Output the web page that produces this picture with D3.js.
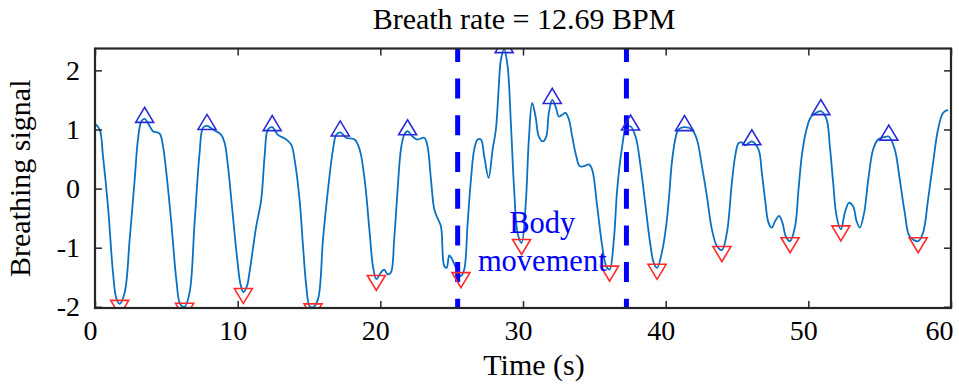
<!DOCTYPE html>
<html><head><meta charset="utf-8">
<script src="https://cdn.jsdelivr.net/npm/d3@7"></script>
<style>
body{margin:0;background:#fff}
svg{display:block}
text{font-family:"Liberation Serif","Times New Roman",Times,serif;}
</style>
</head><body>
<svg id="chart" width="959" height="387"></svg>
<script>
// ---- data ----
const timeS = [0.0,0.33,0.56,0.91,1.26,1.49,1.73,2.08,2.43,2.78,3.01,3.25,3.48,3.83,4.06,4.53,4.77,5.0,5.35,5.7,5.98,6.28,6.63,6.98,7.33,7.57,7.85,8.27,8.85,9.09,9.32,9.62,9.95,10.2,10.4,10.65,10.84,11.3,11.65,11.89,12.12,12.42,12.82,13.41,13.76,13.99,14.34,14.58,14.81,15.04,15.28,15.63,15.98,16.33,16.68,16.91,17.19,17.61,18.2,18.55,18.9,19.25,19.48,19.72,20.04,20.27,20.51,20.74,20.97,21.21,21.44,21.67,21.91,22.26,22.61,23.08,23.31,23.55,23.78,24.01,24.25,24.48,24.65,24.83,25.02,25.25,25.65,25.88,26.12,26.35,26.58,26.82,27.05,27.28,27.59,27.87,28.1,28.29,28.45,28.68,28.92,29.15,29.38,29.62,29.9,30.18,30.41,30.64,30.88,31.11,31.39,31.63,31.81,32.05,32.28,32.52,32.75,32.98,33.22,33.45,33.73,33.97,34.27,34.62,34.85,35.2,35.55,35.83,36.07,36.37,36.6,36.95,37.23,37.54,37.89,38.24,38.59,38.94,39.17,39.4,39.76,40.05,40.25,40.43,40.67,40.9,41.32,41.84,42.19,42.54,42.89,43.24,43.59,43.94,44.29,44.64,44.87,45.11,45.34,45.57,46.04,46.51,46.74,46.97,47.21,47.44,47.67,47.95,48.19,48.42,48.72,49.07,49.31,49.54,49.82,50.13,50.4,50.88,51.28,51.51,51.74,51.98,52.28,52.56,52.84,53.14,53.38,53.61,53.91,54.2,54.54,54.89,55.31,55.64,56.06,56.41,56.76,57.11,57.7,58.04,58.39,58.74,59.09,59.44,59.79];
const signal = [1.10,1.00,0.55,-0.30,-1.42,-1.85,-1.95,-1.76,-0.86,0.15,0.83,1.14,1.18,1.06,0.97,0.93,0.71,0.27,-0.58,-1.54,-1.96,-2.00,-1.76,-0.58,0.60,1.03,1.06,1.00,0.91,0.77,0.38,-0.35,-1.15,-1.62,-1.75,-1.65,-1.40,-0.64,-0.19,0.55,1.00,1.04,0.91,0.83,0.74,0.49,-0.19,-0.97,-1.65,-1.99,-2.01,-1.87,-0.86,-0.02,0.66,0.91,0.95,0.86,0.83,0.66,0.15,-0.74,-1.31,-1.53,-1.42,-1.37,-1.45,-1.42,-0.86,-0.02,0.66,0.91,0.97,0.88,0.83,0.86,0.71,0.15,-0.35,-0.50,-0.64,-1.31,-1.34,-1.13,-1.19,-1.31,-1.48,-1.37,-0.58,0.15,0.66,0.83,0.83,0.55,0.18,0.66,1.00,1.67,2.18,2.36,2.07,1.11,-0.02,-0.75,-0.92,-0.30,0.83,1.45,1.22,0.88,0.80,0.88,1.28,1.50,1.39,1.22,1.25,1.28,1.17,0.88,0.55,0.38,0.38,0.41,0.32,-0.30,-0.97,-1.31,-1.37,-0.86,-0.02,0.71,1.03,1.05,0.88,0.38,-0.30,-0.97,-1.26,-1.34,-1.05,-0.60,-0.10,0.43,0.83,1.00,1.04,1.00,0.83,0.38,-0.13,-0.69,-0.97,-1.04,-0.75,0.10,0.55,0.77,0.78,0.73,0.80,0.66,0.27,-0.19,-0.58,-0.66,-0.55,-0.46,-0.58,-0.81,-0.89,-0.64,-0.02,0.55,0.95,1.19,1.26,1.31,1.17,0.71,0.10,-0.47,-0.69,-0.41,-0.24,-0.30,-0.55,-0.66,-0.41,0.15,0.66,0.83,0.87,0.88,0.66,0.15,-0.41,-0.81,-0.89,-0.75,-0.19,0.43,1.00,1.28,1.33];

const peakTimes   = [3.48,7.85,12.42,17.19,21.91,28.68,32.05,37.54,41.32,46.04,50.88,55.64];
const peakValues  = [1.18,1.06,1.04,0.95,0.97,2.36,1.50,1.05,1.04,0.80,1.31,0.88];
const troughTimes = [1.73,6.28,10.4,15.28,19.72,25.65,29.9,36.07,39.4,43.94,48.72,52.28,57.7];
const troughValues= [-1.95,-2.00,-1.75,-2.01,-1.53,-1.48,-0.92,-1.37,-1.34,-1.04,-0.89,-0.69,-0.89];

const movementTimes = [25.42, 37.25];
const xTicks = [0,10,20,30,40,50,60];
const yTicks = [-2,-1,0,1,2];
const titleText = "Breath rate = 12.69 BPM";
const xLabel = "Time (s)";
const yLabel = "Breathing signal";
const noteLines = ["Body", "movement"];
const notePos = {t: 31.35, v: -0.75};

// ---- layout ----
const svg = d3.select("#chart");
const L = 95, R = 951, T = 48.5, B = 308;
const x = d3.scaleLinear().domain([0, 60]).range([L, R]);
const y = d3.scaleLinear().domain([-2.02, 2.37]).range([B, T]);

svg.append("defs").append("clipPath").attr("id", "plotclip")
  .append("rect").attr("x", L).attr("y", T).attr("width", R - L).attr("height", B - T);

const plot = svg.append("g").attr("clip-path", "url(#plotclip)");

// signal line
const pts = timeS.map((t, i) => [t, signal[i]]);
plot.append("path")
  .datum(pts)
  .attr("fill", "none")
  .attr("stroke", "#0a70c0")
  .attr("stroke-width", 1.8)
  .attr("stroke-linejoin", "round")
  .attr("d", d3.line().x(d => x(d[0])).y(d => y(d[1])).curve(d3.curveCatmullRom.alpha(0.5)));

// movement dashed lines
plot.selectAll("line.mv").data(movementTimes).join("line")
  .attr("class", "mv")
  .attr("x1", d => x(d)).attr("x2", d => x(d))
  .attr("y1", T).attr("y2", B)
  .attr("stroke", "#0000ff")
  .attr("stroke-width", 5)
  .attr("stroke-dasharray", "20 16.7")
  .attr("stroke-dashoffset", 6.6);

// markers
const upTri = "M-9,3.5L9,3.5L0,-11.5Z";
const downTri = "M-9,-3.5L9,-3.5L0,11.5Z";
plot.selectAll("path.pk").data(peakTimes.map((t, i) => [t, peakValues[i]])).join("path")
  .attr("class", "pk")
  .attr("d", upTri)
  .attr("transform", d => `translate(${x(d[0])},${y(d[1])})`)
  .attr("fill", "none").attr("stroke", "#2a2ad8").attr("stroke-width", 1.6);
plot.selectAll("path.tr").data(troughTimes.map((t, i) => [t, troughValues[i]])).join("path")
  .attr("class", "tr")
  .attr("d", downTri)
  .attr("transform", d => `translate(${x(d[0])},${y(d[1])})`)
  .attr("fill", "none").attr("stroke", "#ff2a2a").attr("stroke-width", 1.6);

// axes
const axisColor = "#262626";
const gx = svg.append("g").attr("transform", `translate(0,${B})`)
  .call(d3.axisBottom(x).tickValues(xTicks).tickSize(-7).tickPadding(12).tickFormat(d3.format("d")));
const gy = svg.append("g").attr("transform", `translate(${L},0)`)
  .call(d3.axisLeft(y).tickValues(yTicks).tickSize(-7).tickPadding(15).tickFormat(d3.format("d")));
const gt = svg.append("g").attr("transform", `translate(0,${T})`)
  .call(d3.axisTop(x).tickValues(xTicks).tickSize(-7).tickFormat(""));
const gr = svg.append("g").attr("transform", `translate(${R},0)`)
  .call(d3.axisRight(y).tickValues(yTicks).tickSize(-7).tickFormat(""));
[gx, gy, gt, gr].forEach(g => {
  g.select(".domain").remove();
  g.selectAll(".tick line").attr("stroke", axisColor).attr("stroke-width", 1.5);
  g.selectAll(".tick text").attr("fill", "#000").style("font-size", "28px")
    .style("font-family", '"Liberation Serif","Times New Roman",serif');
});
// x tick labels sit slightly left of their ticks in the reference; keep the last one inside the figure
gx.selectAll(".tick text")
  .attr("dx", -5)
  .filter(d => d === xTicks[xTicks.length - 1])
  .attr("text-anchor", "end").attr("dx", 2);

svg.append("rect").attr("x", L).attr("y", T).attr("width", R - L).attr("height", B - T)
  .attr("fill", "none").attr("stroke", axisColor).attr("stroke-width", 2.2);

// minus sign as hyphen like the reference
gy.selectAll(".tick text").text(d => String(d));

// texts
svg.append("text").attr("x", 524).attr("y", 28.5).attr("text-anchor", "middle")
  .style("font-size", "30px").attr("fill", "#000").text(titleText);
svg.append("text").attr("x", 534).attr("y", 375).attr("text-anchor", "middle")
  .style("font-size", "30px").attr("fill", "#000").text(xLabel);
svg.append("text").attr("transform", `translate(30,${(T + B) / 2}) rotate(-90)`)
  .attr("text-anchor", "middle").style("font-size", "30px").attr("fill", "#000").text(yLabel);

const note = svg.append("text").attr("text-anchor", "middle")
  .style("font-size", "30.5px").attr("fill", "#0000ff");
note.selectAll("tspan").data(noteLines).join("tspan")
  .attr("x", x(notePos.t))
  .attr("y", (d, i) => y(notePos.v) + i * 37.7)
  .text(d => d);
</script>
</body></html>
